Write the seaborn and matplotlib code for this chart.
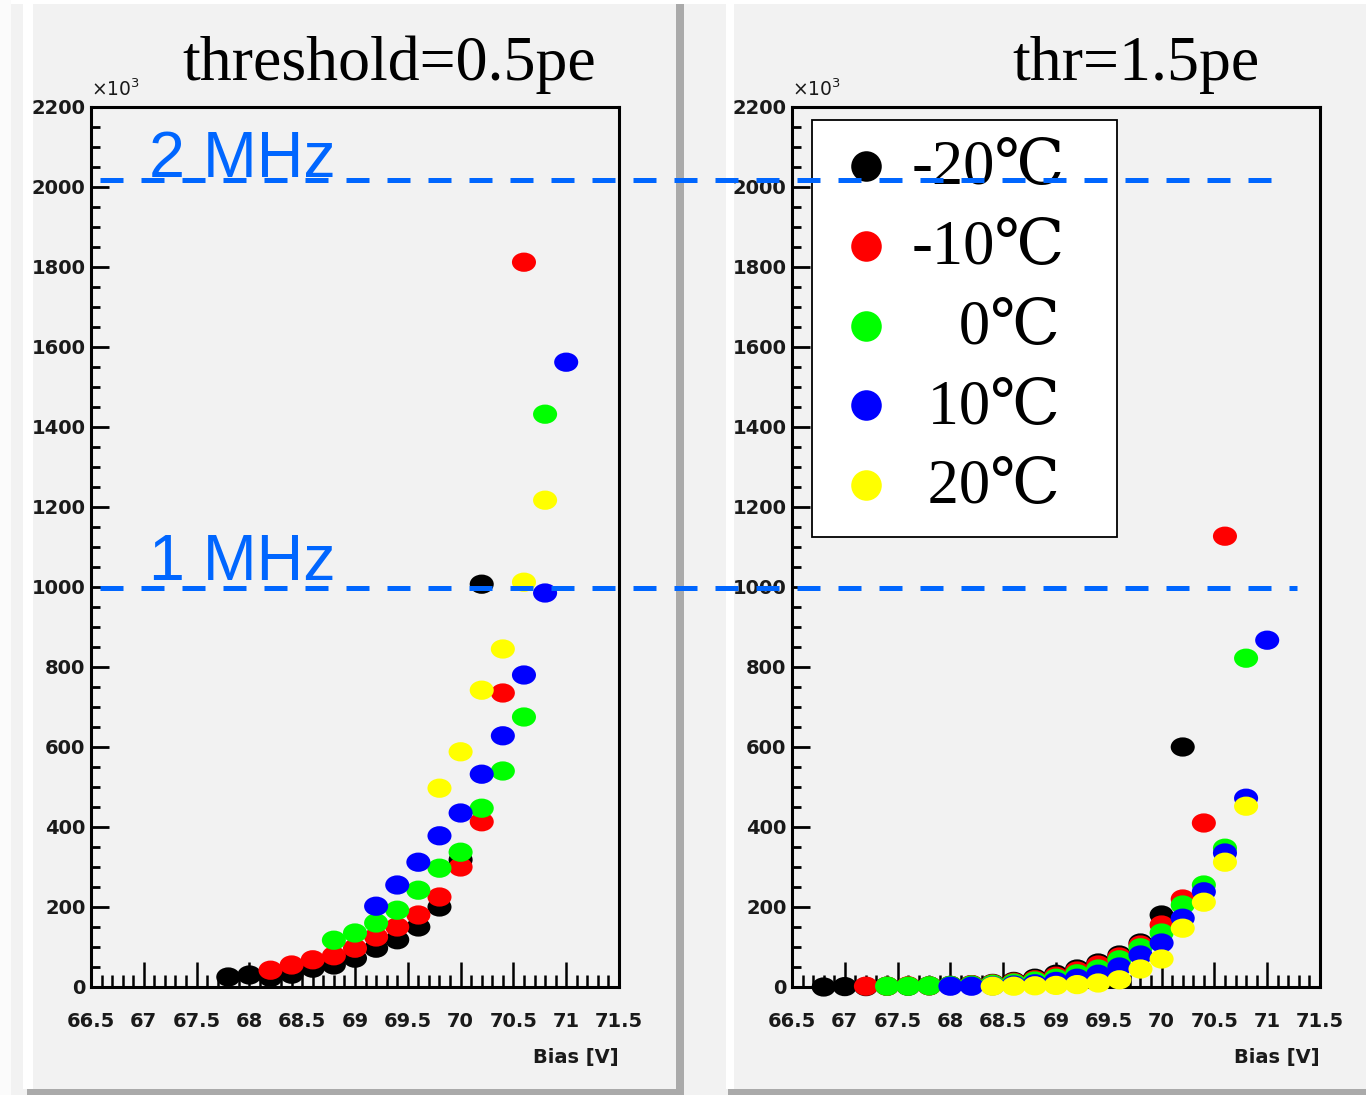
import numpy as np
import pandas as pd
import matplotlib
matplotlib.use("Agg")
import matplotlib.pyplot as plt
import seaborn as sns
from matplotlib.path import Path
from matplotlib.lines import Line2D
from matplotlib.patches import Rectangle
from matplotlib.ticker import FixedLocator, MultipleLocator
import matplotlib.transforms as mtransforms

# ---------------- data ----------------
TEMPS = ["-20", "-10", "0", "10", "20"]
LEGEND_LABELS = ["-20℃", "-10℃", "   0℃", " 10℃", " 20℃"]
COLORS = ["#000000", "#ff0000", "#00ff00", "#0000ff", "#ffff00"]
TITLES = ["threshold=0.5pe", "thr=1.5pe"]

# threshold = 0.5 pe  (rate in units of 10^3)
L_BIAS_M20 = [67.8, 68.0, 68.2, 68.4, 68.6, 68.8, 69.0, 69.2, 69.4, 69.6, 69.8, 70.0, 70.2]
L_RATE_M20 = [25, 30, 24, 32, 47, 55, 72, 97, 118, 150, 200, 318, 1007]
L_BIAS_M10 = [68.2, 68.4, 68.6, 68.8, 69.0, 69.2, 69.4, 69.6, 69.8, 70.0, 70.2, 70.4, 70.6]
L_RATE_M10 = [42, 55, 68, 78, 97, 125, 150, 180, 225, 300, 413, 735, 1812]
L_BIAS_0 = [68.8, 69.0, 69.2, 69.4, 69.6, 69.8, 70.0, 70.2, 70.4, 70.6, 70.8]
L_RATE_0 = [117, 135, 160, 192, 242, 297, 337, 447, 540, 675, 1432]
L_BIAS_10 = [69.2, 69.4, 69.6, 69.8, 70.0, 70.2, 70.4, 70.6, 70.8, 71.0]
L_RATE_10 = [202, 255, 312, 378, 435, 532, 628, 780, 985, 1562]
L_BIAS_20 = [69.8, 70.0, 70.2, 70.4, 70.6, 70.8]
L_RATE_20 = [497, 588, 742, 845, 1012, 1217]

# threshold = 1.5 pe
R_BIAS_M20 = [66.8, 67.0, 67.2, 67.4, 67.6, 67.8, 68.0, 68.2, 68.4, 68.6, 68.8, 69.0,
              69.2, 69.4, 69.6, 69.8, 70.0, 70.2]
R_RATE_M20 = [0, 1, 1, 2, 2, 3, 4, 6, 9, 14, 22, 32, 45, 60, 80, 110, 180, 600]
R_BIAS_M10 = [67.2, 67.4, 67.6, 67.8, 68.0, 68.2, 68.4, 68.6, 68.8, 69.0, 69.2, 69.4,
              69.6, 69.8, 70.0, 70.2, 70.4, 70.6]
R_RATE_M10 = [2, 2, 3, 3, 4, 6, 8, 12, 18, 27, 40, 55, 75, 105, 155, 220, 410, 1127]
R_BIAS_0 = [67.4, 67.6, 67.8, 68.0, 68.2, 68.4, 68.6, 68.8, 69.0, 69.2, 69.4, 69.6,
            69.8, 70.0, 70.2, 70.4, 70.6, 70.8]
R_RATE_0 = [2, 2, 3, 4, 5, 7, 10, 15, 22, 33, 45, 68, 98, 135, 205, 255, 347, 822]
R_BIAS_10 = [68.0, 68.2, 68.4, 68.6, 68.8, 69.0, 69.2, 69.4, 69.6, 69.8, 70.0, 70.2,
             70.4, 70.6, 70.8, 71.0]
R_RATE_10 = [2, 2, 3, 5, 8, 14, 22, 32, 50, 80, 110, 172, 238, 335, 472, 867]
R_BIAS_20 = [68.4, 68.6, 68.8, 69.0, 69.2, 69.4, 69.6, 69.8, 70.0, 70.2, 70.4, 70.6, 70.8]
R_RATE_20 = [2, 2, 3, 4, 6, 10, 18, 45, 70, 147, 212, 312, 452]

X_TICKS = [66.5, 67.0, 67.5, 68.0, 68.5, 69.0, 69.5, 70.0, 70.5, 71.0, 71.5]
X_TICK_LABELS = ["66.5", "67", "67.5", "68", "68.5", "69", "69.5", "70", "70.5", "71", "71.5"]
Y_TICKS = [0, 200, 400, 600, 800, 1000, 1200, 1400, 1600, 1800, 2000, 2200]
Y_TICK_LABELS = ["0", "200", "400", "600", "800", "1000", "1200", "1400", "1600",
                 "1800", "2000", "2200"]
X_LIM = (66.5, 71.5)
Y_LIM = (0, 2200)
RATE_2MHZ = 2018
RATE_1MHZ = 998


def build(series):
    frames = []
    for t, (b, r) in zip(TEMPS, series):
        frames.append(pd.DataFrame({"bias": b, "rate": r, "temp": t}))
    return pd.concat(frames, ignore_index=True)


df_left = build([(L_BIAS_M20, L_RATE_M20), (L_BIAS_M10, L_RATE_M10), (L_BIAS_0, L_RATE_0),
                 (L_BIAS_10, L_RATE_10), (L_BIAS_20, L_RATE_20)])
df_right = build([(R_BIAS_M20, R_RATE_M20), (R_BIAS_M10, R_RATE_M10), (R_BIAS_0, R_RATE_0),
                  (R_BIAS_10, R_RATE_10), (R_BIAS_20, R_RATE_20)])

# ---------------- figure ----------------
W, H = 1366, 1095
BG = "#f2f2f2"
fig = plt.figure(figsize=(W / 100, H / 100), dpi=100, facecolor=BG)


def px_rect(x0, y0, x1, y1, color):
    fig.add_artist(Rectangle((x0 / W, 1 - y1 / H), (x1 - x0) / W, (y1 - y0) / H,
                             transform=fig.transFigure, facecolor=color,
                             edgecolor="none", zorder=-1))


# pad bevels
px_rect(0, 0, W, 4, "#ffffff")
px_rect(0, 0, 11, H, "#fbfbfb")
px_rect(23, 4, 33, 1089, "#ffffff")
px_rect(676, 4, 684, H, "#aaaaaa")
px_rect(27, 1089, 684, H, "#aaaaaa")
px_rect(726, 4, 734, 1089, "#ffffff")
px_rect(728, 1089, W, H, "#aaaaaa")

ax_w = 528 / W
ax_h = 880 / H
ax_b = (H - 987) / H
axL = fig.add_axes([91 / W, ax_b, ax_w, ax_h])
axR = fig.add_axes([792 / W, ax_b, ax_w, ax_h])

circ = Path.unit_circle()
ELLIPSE = Path(circ.vertices * np.array([1.0, 0.8]), circ.codes)

title_x = [(389 - 91) / 528, (1136 - 792) / 528]

for i, (ax, df) in enumerate([(axL, df_left), (axR, df_right)]):
    ax.set_facecolor(BG)
    sns.scatterplot(data=df, x="bias", y="rate", hue="temp", hue_order=TEMPS,
                    palette=COLORS, s=300, marker=ELLIPSE, linewidth=0,
                    legend=False, ax=ax, zorder=3, clip_on=False)
    ax.set_xlim(*X_LIM)
    ax.set_ylim(*Y_LIM)
    ax.xaxis.set_major_locator(FixedLocator(X_TICKS))
    ax.set_xticklabels(X_TICK_LABELS, fontsize=14, fontweight="bold",
                       family="DejaVu Sans", color="#1a1a1a")
    ax.xaxis.set_minor_locator(MultipleLocator(0.1))
    ax.yaxis.set_major_locator(FixedLocator(Y_TICKS))
    ax.set_yticklabels(Y_TICK_LABELS, fontsize=14, fontweight="bold",
                       family="DejaVu Sans", color="#1a1a1a")
    ax.yaxis.set_minor_locator(MultipleLocator(50))
    ax.tick_params(axis="x", which="major", direction="in", length=18, width=1.8,
                   pad=18, top=False, bottom=True)
    ax.tick_params(axis="x", which="minor", direction="in", length=9, width=1.8,
                   top=False, bottom=True)
    ax.tick_params(axis="y", which="major", direction="in", length=13, width=2,
                   pad=4, right=False, left=True)
    ax.tick_params(axis="y", which="minor", direction="in", length=6.5, width=2,
                   right=False, left=True)
    for sp in ax.spines.values():
        sp.set_linewidth(2.2)
        sp.set_color("black")
    ax.set_xlabel("Bias [V]", loc="right", fontsize=14, fontweight="bold",
                  family="DejaVu Sans", color="#1a1a1a", labelpad=12)
    ax.set_ylabel("")
    ax.text(0.0, 1.008, r"×10$^{3}$", transform=ax.transAxes, ha="left", va="bottom",
            fontsize=13.5, family="DejaVu Sans", color="#1a1a1a")
    ax.text(title_x[i], 1.0307, TITLES[i], transform=ax.transAxes, ha="center",
            va="baseline", fontsize=46, family="Liberation Serif", color="black")

# frequency annotations
MHZ_COLOR = "#0066ff"
axL.text(67.05, 2026, "2 MHz", fontsize=46.5, family="Liberation Sans",
         color=MHZ_COLOR, ha="left", va="baseline", zorder=6)
axL.text(67.05, 1017, "1 MHz", fontsize=46.5, family="Liberation Sans",
         color=MHZ_COLOR, ha="left", va="baseline", zorder=6)
trans = mtransforms.blended_transform_factory(axL.transAxes, axL.transData)
for yv, x1 in [(RATE_2MHZ, 2.256), (RATE_1MHZ, 2.284)]:
    fig.add_artist(Line2D([0.017, x1], [yv, yv], transform=trans, color=MHZ_COLOR,
                          lw=3.6, dashes=(4.6, 3.6), zorder=5))

# legend
handles = [Line2D([], [], marker="o", linestyle="none", markersize=22,
                  markerfacecolor=c, markeredgewidth=0) for c in COLORS]
leg = axR.legend(handles, LEGEND_LABELS, loc="upper left",
                 bbox_to_anchor=(0.0379, 0.5, 0.5777, 0.48523), mode="expand",
                 borderaxespad=0, borderpad=0.32, handlelength=1.088,
                 handletextpad=0.19, handleheight=0.3, labelspacing=0.35,
                 prop={"family": ["Liberation Serif", "DejaVu Serif"], "size": 45},
                 frameon=True, fancybox=False, edgecolor="black", facecolor="white",
                 framealpha=1)
leg.get_frame().set_linewidth(1.3)
leg.set_zorder(4)

fig.savefig("out.png", dpi=100, facecolor=BG)
